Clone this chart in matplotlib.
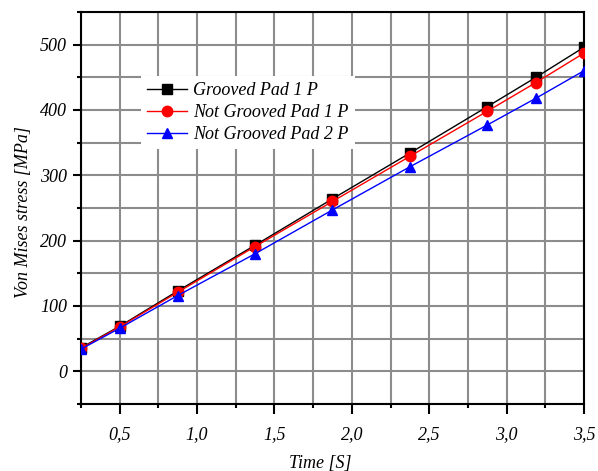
import matplotlib
matplotlib.use("Agg")
import matplotlib.pyplot as plt
from matplotlib.ticker import MultipleLocator, FuncFormatter

plt.rcParams['font.family'] = ['Liberation Serif', 'DejaVu Serif']
plt.rcParams['font.style'] = 'italic'

# waktu (s) dan tegangan von mises (MPa) tiap kasus
time_s = [0.25, 0.5, 0.875, 1.375, 1.875, 2.375, 2.875, 3.19, 3.5]
grooved_1p = [36, 69, 123, 193, 264, 334, 405, 450, 496]
not_grooved_1p = [35, 68, 121, 191, 260, 329, 398, 442, 487]
not_grooved_2p = [34, 66, 116, 180, 247, 313, 377, 418, 460]

labels = ['Grooved Pad 1 P', 'Not Grooved Pad 1 P', 'Not Grooved Pad 2 P']

fig = plt.figure(figsize=(5.98, 4.71), dpi=100)
ax = fig.add_axes([0.1355, 0.1423, 0.841, 0.8323])

ax.plot(time_s, grooved_1p, color='black', lw=1, marker='s', ms=6.5, label=labels[0], zorder=3)
ax.plot(time_s, not_grooved_1p, color='red', lw=1, marker='o', ms=7.5, label=labels[1], zorder=3)
ax.plot(time_s, not_grooved_2p, color='blue', lw=1, marker='^', ms=7.5, label=labels[2], zorder=3)

ax.set_xlim(0.25, 3.5)
ax.set_ylim(-50, 550)
ax.xaxis.set_major_locator(MultipleLocator(0.5))
ax.xaxis.set_minor_locator(MultipleLocator(0.25))
ax.yaxis.set_major_locator(MultipleLocator(100))
ax.yaxis.set_minor_locator(MultipleLocator(50))
ax.xaxis.set_major_formatter(FuncFormatter(lambda v, p: f"{v:.1f}".replace('.', ',')))

ax.grid(True, which='both', color='#8c8c8c', lw=1.5, zorder=0)
ax.set_axisbelow(True)

for s in ax.spines.values():
    s.set_linewidth(1.5)
ax.tick_params(which='major', direction='out', length=6, width=1.5, labelsize=13)
ax.tick_params(axis='x', which='major', length=7, pad=9)
ax.tick_params(axis='y', which='major', pad=4)
ax.tick_params(which='minor', direction='out', length=3, width=1.5)

ax.set_xlabel('Time [S]', fontsize=13)
ax.set_ylabel('Von Mises stress [MPa]', fontsize=13)
ax.xaxis.set_label_coords(0.475, -0.13)
ax.yaxis.set_label_coords(-0.097, 0.49)

leg = ax.legend(loc='upper left', bbox_to_anchor=(0.119, 0.837), frameon=True,
                fontsize=13, handlelength=2.2, handletextpad=0.33,
                labelspacing=0.27, borderpad=0.35, borderaxespad=0)
leg.get_frame().set_facecolor('white')
leg.get_frame().set_edgecolor('none')
leg.get_frame().set_alpha(1)
leg.get_frame().set_boxstyle('square', pad=0)

fig.savefig('out.png', dpi=100)
